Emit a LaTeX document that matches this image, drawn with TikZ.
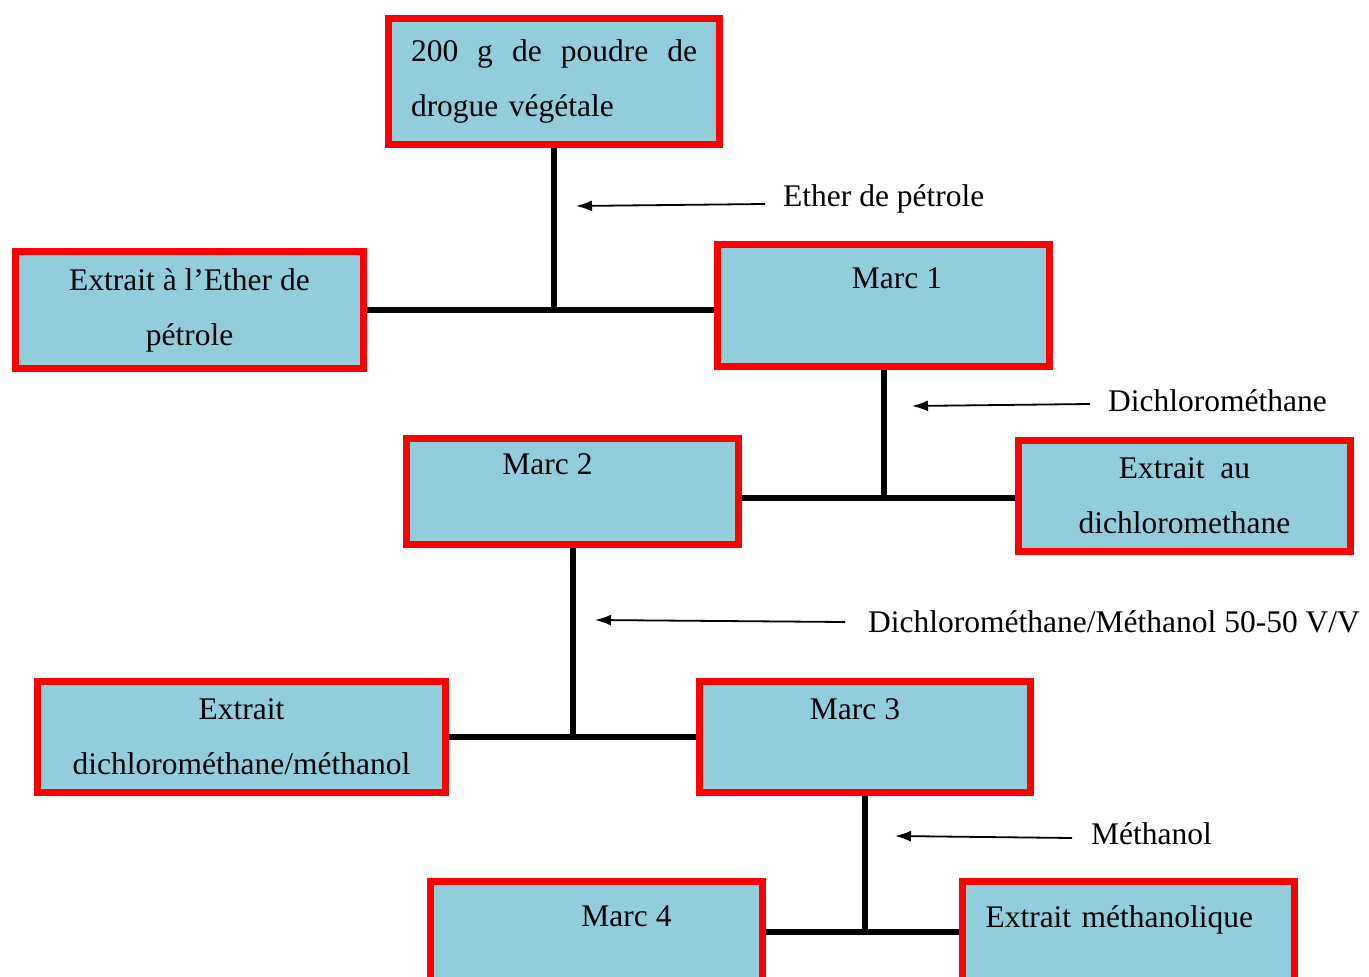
\documentclass[tikz,border=0pt]{standalone}
\usepackage{fontspec}
\setmainfont{Liberation Serif}
\usetikzlibrary{arrows.meta,positioning}
\definecolor{boxblue}{RGB}{146,205,220}

\begin{document}
\begin{tikzpicture}[x=1pt,y=-1pt,font=\fontsize{31.5}{55}\selectfont]
\tikzset{box/.style={draw=red,line width=7pt,fill=boxblue,minimum width=332pt,align=center,inner sep=0pt},
link/.style={line width=6pt},
solvarrow/.style={line width=1.8pt,-{Latex[length=16pt,width=11pt]}},
solv/.style={anchor=west,inner sep=0pt}}
\path[use as bounding box] (0,0) rectangle (1369,977);
\clip (0,0) rectangle (1369,977);

\node[box,minimum width=331pt,minimum height=126pt,text width=286pt,align=left] (poudre) at (554,81.5) {200\hfill g\hfill de\hfill poudre\hfill de\\drogue végétale};
\node[box,minimum width=348pt,minimum height=117pt] (extether) at (189.5,310) {Extrait à l’Ether de\\pétrole};
\node[box,minimum height=122pt] (marc1) at (883.5,305.5) {\hspace*{27pt}Marc 1\\\mbox{}};
\node[box,minimum height=106pt] (marc2) at (572.5,491.5) {Marc 2\hspace*{50pt}\\\mbox{}};
\node[box,minimum height=111pt] (extdcm) at (1184.5,496) {Extrait \ au\\dichloromethane};
\node[box,minimum width=408pt,minimum height=111pt] (extdcmmeth) at (241.5,737) {Extrait\\dichlorométhane/méthanol};
\node[box,minimum width=331pt,minimum height=111pt] (marc3) at (865,737) {Marc 3\hspace*{20pt}\\\mbox{}};
\node[box,minimum height=125pt] (marc4) at (596.5,944) {\hspace*{60pt}Marc 4\\\mbox{}};
\node[box,minimum height=125pt,text width=286pt,align=left] (extmeth) at (1128.5,944) {Extrait méthanolique\\\mbox{}};

\node[solv] (ether) at (783,199) {Ether de pétrole};
\node[solv] (dcm) at (1108,401) {Dichlorométhane};
\node[solv] (dcmmeth) at (868,622) {Dichlorométhane/Méthanol 50-50 V/V};
\node[solv] (meth) at (1091,834) {Méthanol};

\draw[link] (poudre.south) -- (poudre.south |- extether.east);
\draw[link] (extether.east) -- (extether.east -| marc1.west);

\coordinate (j2) at (884,498);
\draw[link] (marc1.south) -- (marc1.south |- j2);
\draw[link] (marc2.east |- j2) -- (extdcm.west |- j2);

\draw[link] (marc2.south) -- (marc2.south |- marc3.west);
\draw[link] (extdcmmeth.east) -- (marc3.west);

\coordinate (j4) at (866,932);
\draw[link] (marc3.south) -- (marc3.south |- j4);
\draw[link] (marc4.east |- j4) -- (extmeth.west |- j4);

\coordinate (tip1) at (576,206);
\coordinate (tip2) at (912,406);
\coordinate (tip3) at (595,620);
\coordinate (tip4) at (895,836);
\draw[solvarrow] ([xshift=-18pt,yshift=-5pt]ether.west) -- (tip1);
\draw[solvarrow] ([xshift=-18pt,yshift=-3pt]dcm.west) -- (tip2);
\draw[solvarrow] ([xshift=-23pt]dcmmeth.west) -- (tip3);
\draw[solvarrow] ([xshift=-19pt,yshift=-4pt]meth.west) -- (tip4);
\end{tikzpicture}
\end{document}
